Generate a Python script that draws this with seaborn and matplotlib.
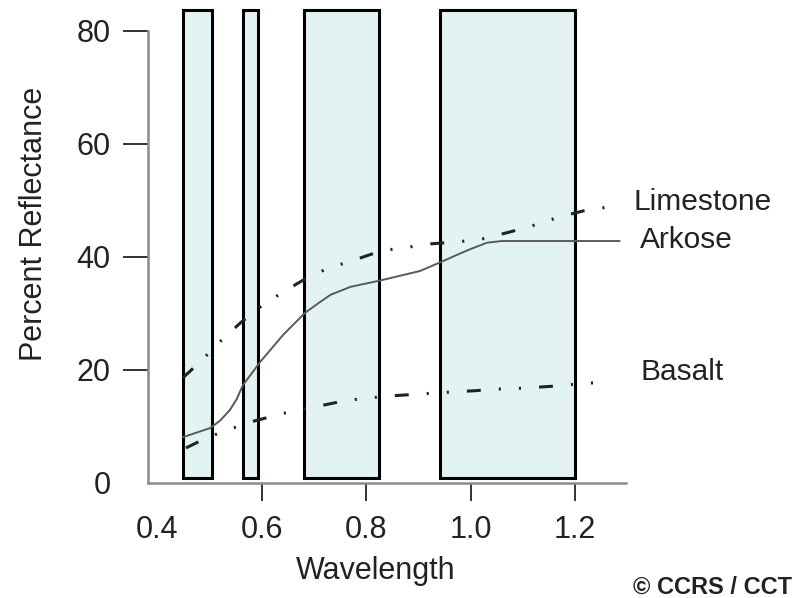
import numpy as np
import pandas as pd
import matplotlib
matplotlib.use("Agg")
import matplotlib.pyplot as plt
import seaborn as sns

sns.set_theme(style="white")
plt.rcParams['font.family'] = ['Liberation Sans', 'DejaVu Sans']
plt.rcParams['lines.scale_dashes'] = False

# ---- data ----
arkose_x = [0.449, 0.501, 0.520, 0.539, 0.552, 0.564, 0.597, 0.641, 0.683, 0.710, 0.732,
            0.770, 0.826, 0.903, 0.941, 0.970, 0.995, 1.031, 1.060, 1.094, 1.285]
arkose_y = [8.1, 9.7, 11.0, 12.9, 14.8, 17.3, 21.4, 26.2, 30.1, 31.9, 33.3,
            34.7, 35.8, 37.5, 39.0, 40.2, 41.2, 42.5, 42.8, 42.8, 42.8]

limestone_x = [0.449, 0.482, 0.520, 0.559, 0.595, 0.641, 0.687, 0.725, 0.779, 0.830,
               0.872, 0.924, 0.980, 1.024, 1.075, 1.129, 1.171, 1.223, 1.280]
limestone_y = [18.6, 21.4, 25.0, 28.3, 31.0, 33.8, 36.3, 37.9, 39.5, 41.1,
               41.6, 42.3, 42.7, 43.2, 44.4, 45.8, 47.1, 48.3, 49.0]

basalt_x = [0.455, 0.495, 0.535, 0.587, 0.654, 0.704, 0.746, 0.788, 0.846, 0.913,
            0.964, 1.004, 1.050, 1.104, 1.171, 1.222, 1.266]
basalt_y = [6.2, 8.0, 9.4, 11.0, 12.6, 13.5, 14.3, 14.9, 15.4, 15.8,
            16.1, 16.3, 16.6, 16.8, 17.2, 17.7, 17.7]

band_starts = [0.449, 0.564, 0.681, 0.941]
band_ends = [0.505, 0.593, 0.824, 1.200]
band_bottom = 0.9
band_top = 83.7

x_ticks = [0.4, 0.6, 0.8, 1.0, 1.2]
x_tick_labels = ["0.4", "0.6", "0.8", "1.0", "1.2"]
y_ticks = [0, 20, 40, 60, 80]

series_labels = ["Limestone", "Arkose", "Basalt"]
label_pos_x = [1.311, 1.324, 1.324]
label_pos_y = [49.7, 43.0, 19.6]

# ---- figure ----
fig = plt.figure(figsize=(7.94, 5.98), dpi=100)
ax = fig.add_axes([148/794, 1 - 483/598, 478/794, (483 - 30.7)/598])

# bands
for s, e in zip(band_starts, band_ends):
    ax.bar(x=s, height=band_top - band_bottom, width=e - s, bottom=band_bottom,
           align='edge', color='#e3f3f3', edgecolor='black', linewidth=2.2,
           clip_on=False, zorder=1)

dashdotdot = (0, (10, 13, 1.5, 13, 1.5, 13))

sns.lineplot(x=arkose_x, y=arkose_y, ax=ax, color='#5a5a5a', linewidth=1.4,
             sort=False, zorder=3)
sns.lineplot(x=limestone_x, y=limestone_y, ax=ax, color='#222222', linewidth=2.2,
             linestyle=dashdotdot, sort=False, zorder=3)
sns.lineplot(x=basalt_x, y=basalt_y, ax=ax, color='#222222', linewidth=2.2,
             linestyle=dashdotdot, sort=False, zorder=3)
for ln in ax.lines:
    ln.set_dash_capstyle('butt')
    ln.set_solid_joinstyle('round')
    ln.set_clip_on(False)

ax.set_xlim(0.3824, 1.2972)
ax.set_ylim(0, 80)

ax.set_xticks(x_ticks)
ax.set_xticklabels(x_tick_labels)
ax.set_yticks(y_ticks)
ax.tick_params(axis='x', direction='out', length=13, width=1.4, color='#333333',
               labelsize=22, pad=10, labelcolor='#222222', bottom=True)
ax.tick_params(axis='y', direction='out', length=18, width=1.4, color='#333333',
               labelsize=22, pad=9, labelcolor='#222222', left=True)
ax.xaxis.get_major_ticks()[0].tick1line.set_visible(False)
ax.yaxis.get_major_ticks()[0].tick1line.set_visible(False)

for side in ['top', 'right']:
    ax.spines[side].set_visible(False)
for side in ['left', 'bottom']:
    ax.spines[side].set_color('#8c8c8c')
    ax.spines[side].set_linewidth(1.8)

ax.set_xlabel("")
ax.set_ylabel("")
fig.text(376/794, 1 - 571/598, "Wavelength", ha='center', va='center',
         fontsize=22, color='#222222')
fig.text(34/794, 1 - 224/598, "Percent Reflectance", ha='center', va='center',
         rotation=90, fontsize=22, color='#222222')

for lab, lx, ly in zip(series_labels, label_pos_x, label_pos_y):
    ax.text(lx, ly, lab, ha='left', va='center', fontsize=21.5, color='#222222',
            clip_on=False)

fig.text(0.998, 1 - 587/598, "\u00a9 CCRS / CCT", ha='right', va='center',
         fontsize=17, fontweight='bold', color='#222222')

fig.savefig("out.png", dpi=100)
